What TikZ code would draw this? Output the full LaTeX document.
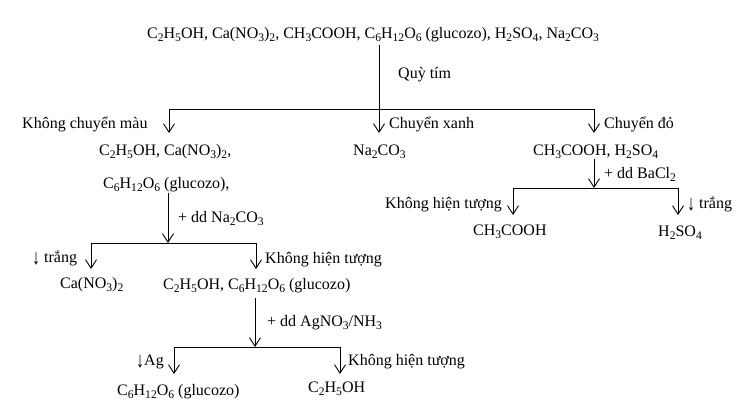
\documentclass[tikz,border=0pt]{standalone}
\usepackage{fontspec}
\usepackage{graphicx}
\setmainfont{Liberation Serif}
\usetikzlibrary{arrows.meta}
\newcommand\sbs[1]{\raisebox{-2.8pt}{\fontsize{11.6}{13}\selectfont #1}}
\newcommand\dnarr{\raisebox{-2.2pt}{\scalebox{1}[1.35]{↓}}}
\begin{document}
\begin{tikzpicture}[x=1pt,y=-1pt,
  txt/.style={inner sep=0pt,anchor=base west,font=\fontsize{16}{19}\selectfont},
  ln/.style={line width=0.9pt},
  arr/.style={line width=0.9pt,-{Straight Barb[length=8.5pt,width=11pt,line width=0.9pt]}}]
\useasboundingbox (0,0) rectangle (736,411);
\fill[white] (0,0) rectangle (736,411);
% texts
\node[txt] (top) at (147,38.5) {C\sbs{2}H\sbs{5}OH, Ca(NO\sbs{3})\sbs{2}, CH\sbs{3}COOH, C\sbs{6}H\sbs{12}O\sbs{6} (glucozo), H\sbs{2}SO\sbs{4}, Na\sbs{2}CO\sbs{3}};
\node[txt] (quy) at (398,78.5) {Quỳ tím};
\node[txt] (lkc) at (22,128.5) {Không chuyển màu};
\node[txt] (lcx) at (389,128.5) {Chuyển xanh};
\node[txt] (lcd) at (604,128.5) {Chuyển đỏ};
\node[txt] (g1a) at (99,155.5) {C\sbs{2}H\sbs{5}OH, Ca(NO\sbs{3})\sbs{2},};
\node[txt] (g1b) at (103,188.5) {C\sbs{6}H\sbs{12}O\sbs{6} (glucozo),};
\node[txt] (na) at (353,155.5) {Na\sbs{2}CO\sbs{3}};
\node[txt] (ac) at (533,155.5) {CH\sbs{3}COOH, H\sbs{2}SO\sbs{4}};
\node[txt] (rbacl) at (604,178.5) {+ dd BaCl\sbs{2}};
\node[txt] (lkh1) at (385,208.5) {Không hiện tượng};
\node[txt] (ltr1) at (687,208.5) {\dnarr{} trắng};
\node[txt] (ch3) at (473,235.5) {CH\sbs{3}COOH};
\node[txt] (h2so) at (658,237) {H\sbs{2}SO\sbs{4}};
\node[txt] (rna) at (178,222.5) {+ dd Na\sbs{2}CO\sbs{3}};
\node[txt] (ltr2) at (32,262.5) {\dnarr{} trắng};
\node[txt] (lkh2) at (265,263.5) {Không hiện tượng};
\node[txt] (ca) at (60,288.5) {Ca(NO\sbs{3})\sbs{2}};
\node[txt] (mix) at (163,289.5) {C\sbs{2}H\sbs{5}OH, C\sbs{6}H\sbs{12}O\sbs{6} (glucozo)};
\node[txt] (rag) at (267,326.5) {+ dd AgNO\sbs{3}/NH\sbs{3}};
\node[txt] (lag) at (136,365.5) {\dnarr{}Ag};
\node[txt] (lkh3) at (348,365.5) {Không hiện tượng};
\node[txt] (glu) at (117,395.5) {C\sbs{6}H\sbs{12}O\sbs{6} (glucozo)};
\node[txt] (eth) at (308,392.5) {C\sbs{2}H\sbs{5}OH};
% junction coordinates
\coordinate (t0) at (379,45);
\coordinate (j1) at (379,109);
\coordinate (j1l) at (169,109);
\coordinate (j1r) at (594,109);
\coordinate (e1l) at (169,133);
\coordinate (e1m) at (379,133);
\coordinate (e1r) at (594,133);
\coordinate (b0) at (594,159);
\coordinate (j2) at (594,188);
\coordinate (j2l) at (513,188);
\coordinate (j2r) at (678,188);
\coordinate (e2l) at (513,215);
\coordinate (e2r) at (678,215);
\coordinate (n0) at (168,193);
\coordinate (j3) at (168,243);
\coordinate (j3l) at (91,243);
\coordinate (j3r) at (256,243);
\coordinate (e3l) at (91,269);
\coordinate (e3r) at (256,269);
\coordinate (a0) at (255,298);
\coordinate (j4) at (255,347);
\coordinate (j4l) at (174,347);
\coordinate (j4r) at (340,347);
\coordinate (e4l) at (174,374);
\coordinate (e4r) at (340,374);
% connectors
\draw[ln] (t0) -- (j1);
\draw[ln] (j1l) -- (j1r);
\draw[arr] (j1l) -- (e1l);
\draw[arr] (j1) -- (e1m);
\draw[arr] (j1r) -- (e1r);
\draw[arr] (b0) -- (j2);
\draw[ln] (j2l) -- (j2r);
\draw[arr] (j2l) -- (e2l);
\draw[arr] (j2r) -- (e2r);
\draw[arr] (n0) -- (j3);
\draw[ln] (j3l) -- (j3r);
\draw[arr] (j3l) -- (e3l);
\draw[arr] (j3r) -- (e3r);
\draw[arr] (a0) -- (j4);
\draw[ln] (j4l) -- (j4r);
\draw[arr] (j4l) -- (e4l);
\draw[arr] (j4r) -- (e4r);
\end{tikzpicture}
\end{document}
